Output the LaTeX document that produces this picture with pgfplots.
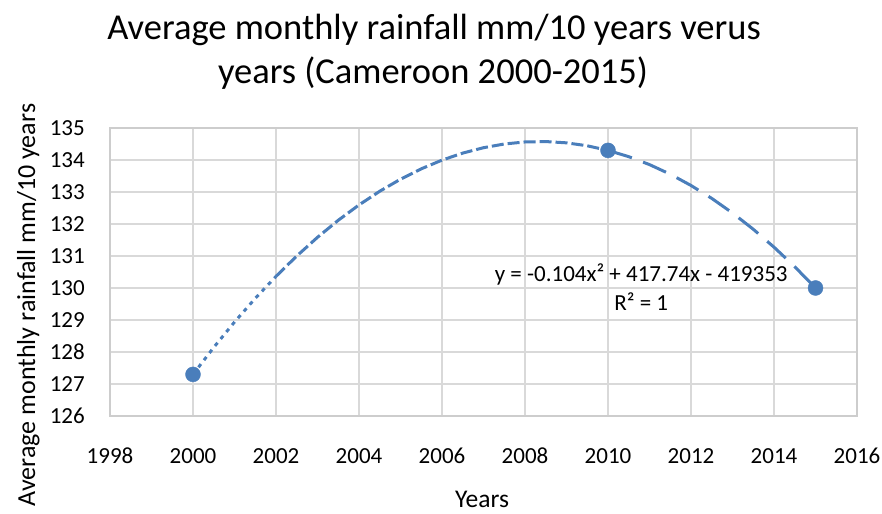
\documentclass[border=0pt]{standalone}
\usepackage{pgfplots}
\pgfplotsset{compat=1.18}
\usepackage{fontspec}
\setmainfont{Carlito}

\definecolor{xlblue}{RGB}{74,126,187}
\definecolor{gridgray}{RGB}{217,217,217}
\definecolor{bordergray}{RGB}{205,205,205}

\begin{document}
\begin{tikzpicture}
\useasboundingbox (0,0) rectangle (882bp,514bp);

% title, two lines
\node[anchor=base, font=\fontsize{36.5bp}{44bp}\selectfont] at (434bp,474bp) {Average monthly rainfall mm/10 years verus};
\node[anchor=base, font=\fontsize{36.5bp}{44bp}\selectfont] at (433bp,430bp) {years (Cameroon 2000-2015)};

% axis titles
\node[anchor=base, font=\fontsize{25.5bp}{30bp}\selectfont] at (482bp,7bp) {Years};
\node[anchor=base, rotate=90, font=\fontsize{26bp}{30bp}\selectfont] at (35bp,209bp) {Average monthly rainfall mm/10 years};

\begin{axis}[
    at={(110bp,98bp)}, anchor=south west,
    scale only axis,
    width=747bp, height=288bp,
    xmin=1998, xmax=2016,
    ymin=126, ymax=135,
    xtick={1998,2000,...,2016},
    ytick={126,127,...,135},
    /pgf/number format/.cd, use comma=false, 1000 sep={}, assume math mode=true,
    /pgfplots/.cd,
    grid=both,
    grid style={draw=gridgray, line width=1.2bp},
    axis line style={draw=bordergray, line width=1.2bp},
    major tick length=0pt,
    tick style={draw=none},
    ticklabel style={font=\fontsize{23bp}{27bp}\selectfont, text=black},
    yticklabel style={anchor=east, inner sep=0pt, xshift=-25bp},
    xticklabel style={anchor=north, inner sep=0pt, yshift=-32bp},
    clip=false,
]

% polynomial trendline
\addplot[xlblue, line width=3bp, dash pattern=on 4bp off 5bp] coordinates {
    (2000,127.300) (2000.5,128.144) (2001,128.936) (2001.5,129.676) (2002,130.364)
};
\addplot[xlblue, line width=3bp, dash pattern=on 12bp off 4bp] coordinates {
    (2002,130.364) (2002.5,131.000) (2003,131.584) (2003.5,132.116) (2004,132.596)
    (2004.5,133.024) (2005,133.400) (2005.5,133.724) (2006,133.996) (2006.5,134.216)
    (2007,134.384) (2007.5,134.500) (2008,134.564) (2008.5,134.576) (2009,134.536)
    (2009.5,134.444) (2010,134.300)
};
\addplot[xlblue, line width=3bp, dash pattern=on 25bp off 12bp] coordinates {
    (2010,134.300) (2010.5,134.104) (2011,133.856) (2011.5,133.556) (2012,133.204)
    (2012.5,132.800) (2013,132.344) (2013.5,131.836) (2014,131.276) (2014.5,130.664)
    (2015,130.000)
};

% observed values
\addplot[only marks, mark=*, mark size=7.5bp, xlblue, mark options={fill=xlblue, draw=xlblue}] coordinates {
    (2000,127.3) (2010,134.3) (2015,130.0)
};

\node[anchor=base, font=\fontsize{23bp}{27bp}\selectfont] at (axis cs:2010.8,130.19) {y = -0.104x² + 417.74x - 419353};
\node[anchor=base, font=\fontsize{23bp}{27bp}\selectfont] at (axis cs:2010.8,129.31) {R² = 1};
\end{axis}
\end{tikzpicture}
\end{document}
